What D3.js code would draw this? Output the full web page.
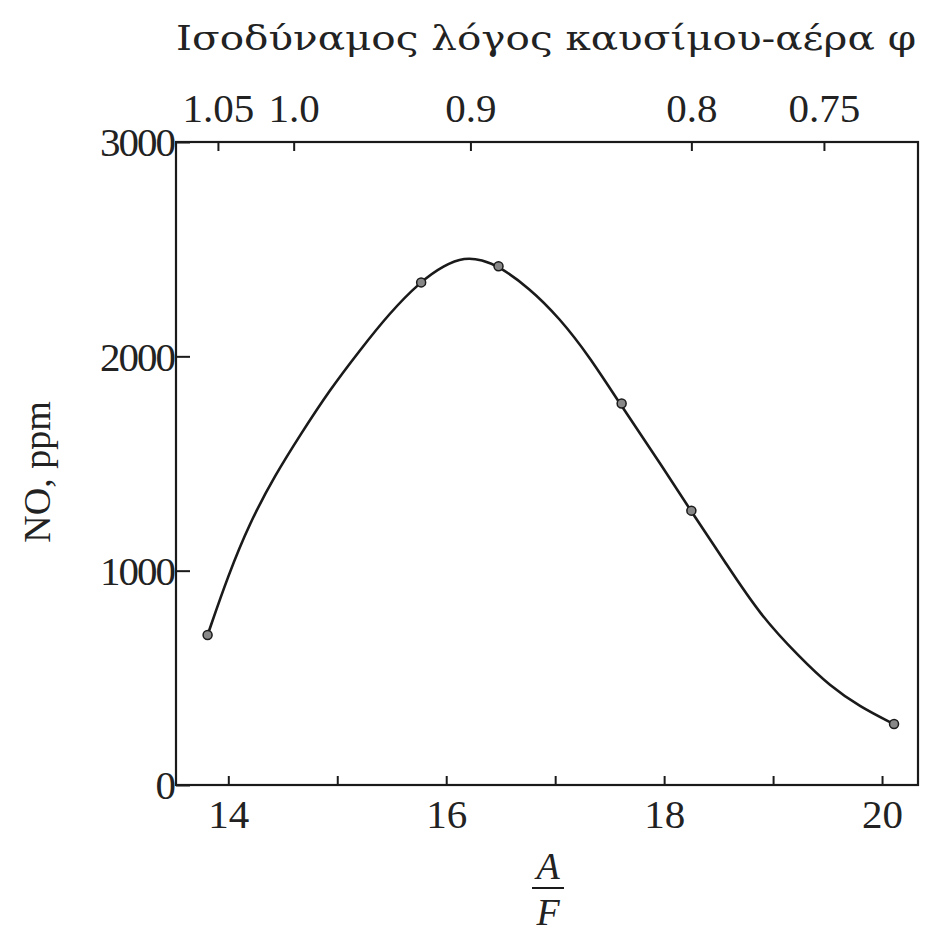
<!DOCTYPE html>
<html>
<head>
<meta charset="utf-8">
<script src="https://cdn.jsdelivr.net/npm/d3@7"></script>
<style>
  body { margin: 0; background: #fff; }
  svg text { font-family: "Liberation Serif", "DejaVu Serif", serif; fill: #222; }
</style>
</head>
<body>
<svg id="chart" width="925" height="933"></svg>
<script>
// measured points (A/F, NO ppm)
const afValues = [13.81, 15.77, 16.48, 17.61, 18.25, 20.11];
const noValues = [700, 2345, 2420, 1780, 1280, 285];

// smooth fitted curve
const curveAf = [13.81, 14.00, 14.20, 14.43, 14.66, 14.93, 15.21, 15.48, 15.76, 15.98, 16.17,
                 16.33, 16.48, 16.76, 17.04, 17.32, 17.59, 17.92, 18.24, 18.56, 18.88, 19.25,
                 19.52, 19.80, 20.09];
const curveNo = [700, 980, 1227, 1446, 1633, 1843, 2030, 2202, 2347, 2425, 2462,
                 2450, 2421, 2320, 2179, 1995, 1782, 1535, 1283, 1040, 793, 593,
                 462, 364, 289];

const afTicks = [14, 15, 16, 17, 18, 19, 20];
const afTickLabels = [14, 16, 18, 20];
const noTicks = [0, 1000, 2000, 3000];
const phiTicks = [1.05, 1.0, 0.9, 0.8, 0.75];
const phiLabels = ["1.05", "1.0", "0.9", "0.8", "0.75"];
const afStoich = 14.6;

const svg = d3.select("#chart");
const mLeft = 176, mRight = 918, mTop = 142, mBottom = 785;

const x = d3.scaleLinear().domain([13.52, 20.33]).range([mLeft, mRight]);
const y = d3.scaleLinear().domain([0, 3000]).range([mBottom, mTop]);

const ink = "#1a1a1a";

// frame
svg.append("rect")
    .attr("x", mLeft).attr("y", mTop)
    .attr("width", mRight - mLeft).attr("height", mBottom - mTop)
    .attr("fill", "none")
    .attr("stroke", ink)
    .attr("stroke-width", 2.2);

// bottom axis (ticks point inward)
const gx = svg.append("g")
    .attr("transform", `translate(0,${mBottom})`)
    .call(d3.axisBottom(x)
        .tickValues(afTicks)
        .tickSize(-9)
        .tickFormat(d => afTickLabels.includes(d) ? d : ""));
gx.select(".domain").remove();
gx.selectAll(".tick line").attr("stroke", ink).attr("stroke-width", 2);
gx.selectAll(".tick text")
    .attr("y", 43)
    .attr("dy", 0)
    .style("font-size", "41px");

// left axis
const gy = svg.append("g")
    .attr("transform", `translate(${mLeft},0)`)
    .call(d3.axisLeft(y)
        .tickValues(noTicks)
        .tickSize(-14)
        .tickFormat(d => d));
gy.select(".domain").remove();
gy.selectAll(".tick line").attr("stroke", ink).attr("stroke-width", 2);
gy.selectAll(".tick text")
    .attr("x", -2)
    .attr("dy", "0.34em")
    .style("font-size", "41px")
    .style("letter-spacing", "-2px");

// top axis: equivalence ratio phi, placed at A/F = stoich / phi
const gTop = svg.append("g")
    .attr("transform", `translate(0,${mTop})`)
    .call(d3.axisTop(x)
        .tickValues(phiTicks.map(p => afStoich / p))
        .tickSize(-9)
        .tickFormat((d, i) => phiLabels[i]));
gTop.select(".domain").remove();
gTop.selectAll(".tick line").attr("stroke", ink).attr("stroke-width", 2);
gTop.selectAll(".tick text")
    .attr("y", -20)
    .attr("dy", 0)
    .style("font-size", "41px");

// curve (b-spline through the traced points to smooth tracing noise)
const curvePts = curveAf.map((a, i) => [a, curveNo[i]]);
const line = d3.line()
    .x(d => x(d[0]))
    .y(d => y(d[1]))
    .curve(d3.curveBasis);

svg.append("path")
    .datum(curvePts)
    .attr("d", line)
    .attr("fill", "none")
    .attr("stroke", ink)
    .attr("stroke-width", 2.6);

const pts = afValues.map((a, i) => [a, noValues[i]]);
svg.selectAll(".pt")
    .data(pts)
    .join("circle")
    .attr("class", "pt")
    .attr("cx", d => x(d[0]))
    .attr("cy", d => y(d[1]))
    .attr("r", 4.5)
    .attr("fill", "#888")
    .attr("stroke", ink)
    .attr("stroke-width", 1.5);

// top title
svg.append("text")
    .attr("x", mLeft)
    .attr("y", 50)
    .attr("textLength", 740)
    .attr("lengthAdjust", "spacingAndGlyphs")
    .style("font-family", "'DejaVu Serif', serif")
    .style("font-size", "33px")
    .text("Ισοδύναμος λόγος καυσίμου-αέρα φ");

// y label
svg.append("text")
    .attr("transform", `translate(50,472) rotate(-90)`)
    .attr("text-anchor", "middle")
    .style("font-size", "38px")
    .text("NO, ppm");

// x label: A over F
const xl = svg.append("g").attr("transform", "translate(548,0)");
xl.append("text")
    .attr("y", 879)
    .attr("text-anchor", "middle")
    .style("font-size", "38px")
    .style("font-style", "italic")
    .text("A");
xl.append("line")
    .attr("x1", -16).attr("x2", 16)
    .attr("y1", 888).attr("y2", 888)
    .attr("stroke", ink)
    .attr("stroke-width", 2);
xl.append("text")
    .attr("y", 925)
    .attr("text-anchor", "middle")
    .style("font-size", "38px")
    .style("font-style", "italic")
    .text("F");
</script>
</body>
</html>
